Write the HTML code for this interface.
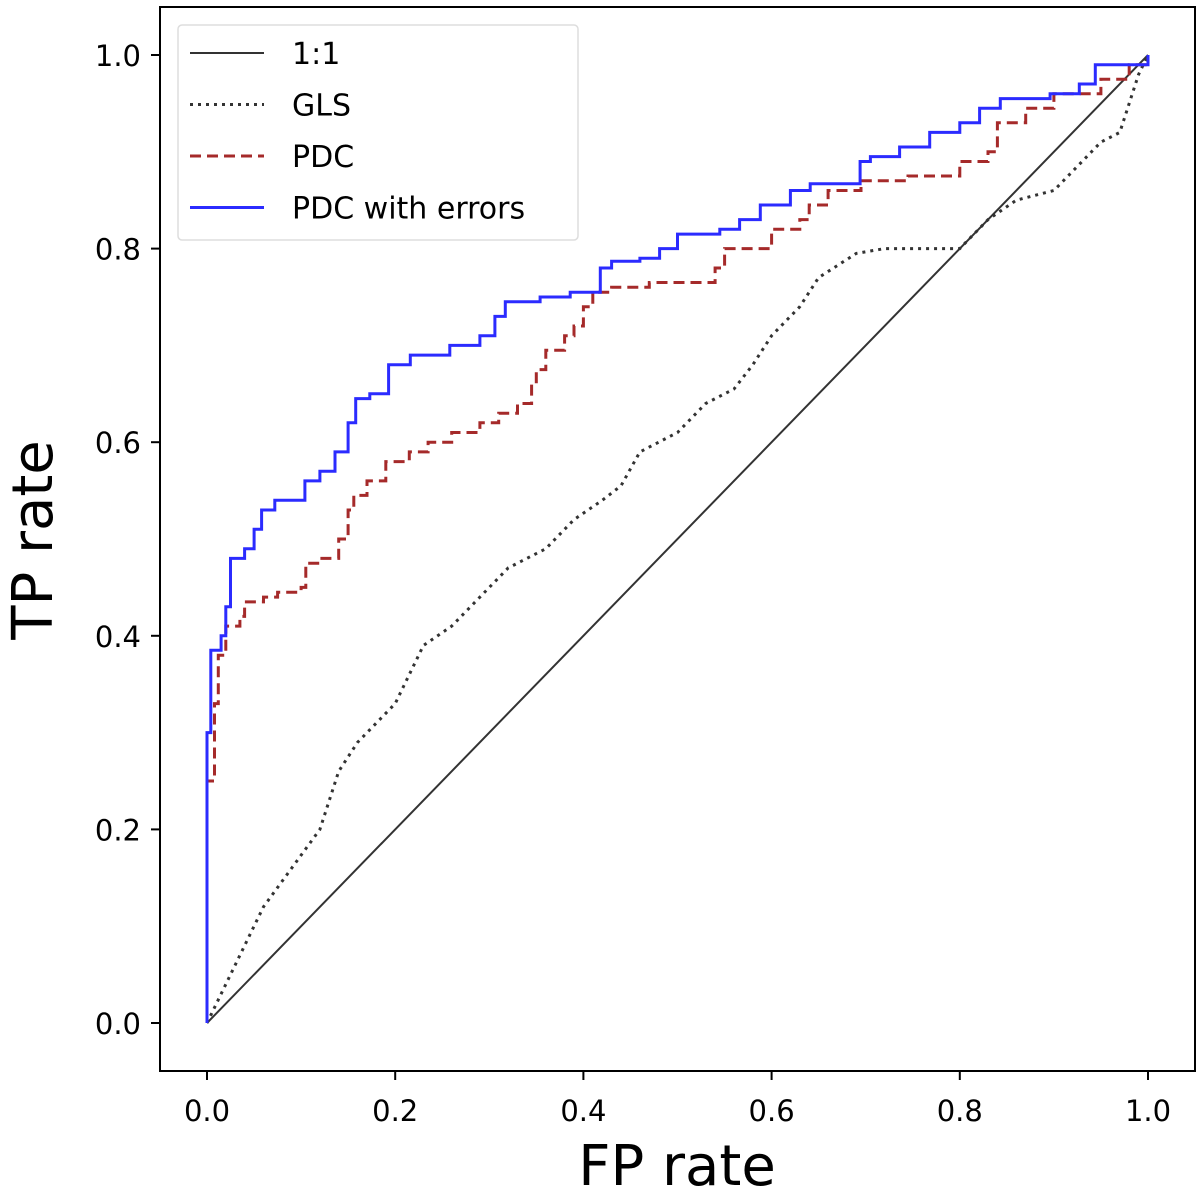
<!DOCTYPE html>
<html><head><meta charset="utf-8"><style>
body{margin:0;background:#fff;}
svg{display:block;font-family:"DejaVu Sans","Liberation Sans",sans-serif;}
</style></head><body>
<svg id="chart" width="1200" height="1194" viewBox="0 0 1200 1194">
<g id="plot"></g>
</svg>
<script>
const xTicks=[0,0.2,0.4,0.6,0.8,1.0];
const yTicks=[0,0.2,0.4,0.6,0.8,1.0];
const tickLabels=["0.0","0.2","0.4","0.6","0.8","1.0"];
const diagX=[0,1];
const diagY=[0,1];
const pdcErrFP=[0,0,0.004,0.004,0.015,0.02,0.025,0.04,0.05,0.058,0.072,0.104,0.12,0.136,0.15,0.158,0.173,0.193,0.216,0.258,0.29,0.306,0.317,0.354,0.386,0.418,0.43,0.46,0.481,0.5,0.545,0.566,0.588,0.62,0.641,0.694,0.705,0.736,0.768,0.8,0.821,0.843,0.896,0.927,0.944,0.99,1];
const pdcErrTP=[0,0.30,0.30,0.385,0.40,0.43,0.48,0.49,0.51,0.53,0.54,0.56,0.57,0.59,0.62,0.645,0.65,0.68,0.69,0.70,0.71,0.73,0.745,0.75,0.755,0.78,0.787,0.79,0.80,0.815,0.82,0.83,0.845,0.86,0.867,0.89,0.895,0.905,0.92,0.93,0.945,0.955,0.96,0.97,0.99,0.99,1];
const pdcFP=[0,0,0.006,0.008,0.012,0.02,0.035,0.04,0.06,0.075,0.1,0.105,0.12,0.14,0.15,0.156,0.17,0.19,0.215,0.235,0.26,0.29,0.31,0.33,0.345,0.35,0.36,0.38,0.39,0.4,0.41,0.43,0.47,0.54,0.55,0.6,0.63,0.64,0.66,0.695,0.745,0.8,0.83,0.84,0.87,0.9,0.95,0.98,1];
const pdcTP=[0,0.25,0.25,0.33,0.38,0.41,0.42,0.435,0.44,0.445,0.45,0.475,0.48,0.50,0.53,0.545,0.56,0.58,0.59,0.60,0.61,0.62,0.63,0.64,0.66,0.675,0.695,0.71,0.72,0.74,0.755,0.76,0.765,0.78,0.80,0.82,0.83,0.845,0.86,0.87,0.875,0.89,0.9,0.93,0.945,0.96,0.975,0.99,1];
const glsFP=[0,0.02,0.04,0.06,0.09,0.12,0.14,0.16,0.2,0.21,0.23,0.26,0.28,0.3,0.32,0.36,0.39,0.42,0.44,0.46,0.5,0.53,0.56,0.58,0.6,0.63,0.65,0.69,0.72,0.8,0.83,0.86,0.9,0.93,0.95,0.97,0.98,0.99,1];
const glsTP=[0,0.04,0.08,0.12,0.16,0.2,0.26,0.29,0.33,0.35,0.39,0.41,0.43,0.45,0.47,0.49,0.52,0.54,0.555,0.59,0.61,0.64,0.655,0.68,0.71,0.74,0.77,0.795,0.80,0.80,0.83,0.85,0.86,0.89,0.91,0.92,0.95,0.98,1];

const NS="http://www.w3.org/2000/svg";
const X0=207,X1=1148,Y0=1023,Y1=55;
function sx(v){return X0+(X1-X0)*v;}
function sy(v){return Y0-(Y0-Y1)*v;}
const g=document.getElementById('plot');
function mk(tag,attrs,parent){const e=document.createElementNS(NS,tag);for(const k in attrs)e.setAttribute(k,attrs[k]);(parent||g).appendChild(e);return e;}

const frame=mk('rect',{x:160,y:7,width:1035,height:1064,fill:'none',stroke:'#000','stroke-width':2});



xTicks.forEach((t,i)=>{
  const tk=mk('line',{x1:sx(t),x2:sx(t),y1:1071,y2:1080,stroke:'#000','stroke-width':2});
  
  
  const lb=mk('text',{x:sx(t),y:1121,'font-size':29,'text-anchor':'middle',fill:'#000'});
  lb.textContent=tickLabels[i];
  
  
});
yTicks.forEach((t,i)=>{
  const tk=mk('line',{x1:151,x2:160,y1:sy(t),y2:sy(t),stroke:'#000','stroke-width':2});
  
  
  const lb=mk('text',{x:141,y:sy(t)+11,'font-size':29,'text-anchor':'end',fill:'#000'});
  lb.textContent=tickLabels[i];
  
  
});
const xt=mk('text',{x:677,y:1185,'font-size':56,'text-anchor':'middle',fill:'#000'});
xt.textContent='FP rate';


const yt=mk('text',{x:52,y:540,'font-size':56,'text-anchor':'middle',fill:'#000',transform:'rotate(-90 52 540)'});
yt.textContent='TP rate';



function poly(xs,ys){return xs.map((x,i)=>sx(x).toFixed(1)+','+sy(ys[i]).toFixed(1)).join(' ');}
function step(xs,ys){let p=[];for(let i=0;i<xs.length;i++){if(i>0)p.push(sx(xs[i]).toFixed(1)+','+sy(ys[i-1]).toFixed(1));p.push(sx(xs[i]).toFixed(1)+','+sy(ys[i]).toFixed(1));}return p.join(' ');}

const d=mk('polyline',{points:poly(diagX,diagY),fill:'none',stroke:'#333','stroke-width':2});


const gl=mk('polyline',{points:poly(glsFP,glsTP),fill:'none',stroke:'#333','stroke-width':3,'stroke-dasharray':'3,5'});


const pd=mk('polyline',{points:step(pdcFP,pdcTP),fill:'none',stroke:'#a52a2a','stroke-width':3,'stroke-dasharray':'11,6'});


const pe=mk('polyline',{points:step(pdcErrFP,pdcErrTP),fill:'none',stroke:'#2b2bff','stroke-width':3});



const lg=mk('g',{});


mk('rect',{x:178,y:25,width:400,height:215,rx:4,fill:'#fff','fill-opacity':0.85,stroke:'#ddd','stroke-width':1.5},lg);
const entries=[['1:1','#333','none',2],['GLS','#333','3,5',3],['PDC','#a52a2a','11,6',3],['PDC with errors','#2b2bff','none',3]];
entries.forEach((e,i)=>{
  const y=53+i*51.5;
  const ent=mk('g',{},lg);
  
  
  mk('line',{x1:190,x2:264,y1:y,y2:y,stroke:e[1],'stroke-width':e[3],'stroke-dasharray':e[2]},ent);
  const t=mk('text',{x:292,y:y+11,'font-size':30,fill:'#000'},ent);
  t.textContent=e[0];
});
</script>
</body></html>
